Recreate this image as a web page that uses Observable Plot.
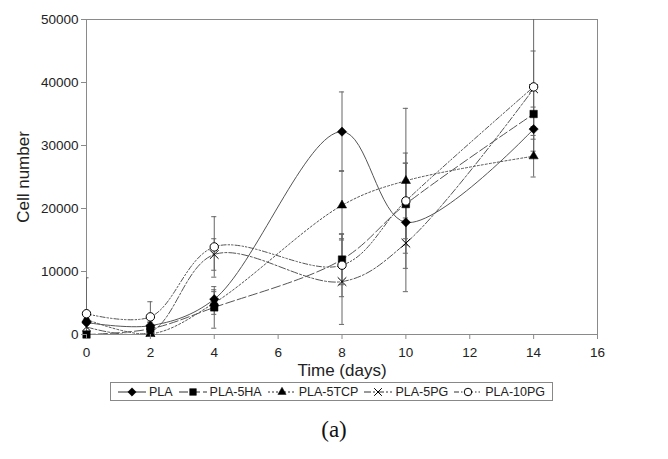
<!DOCTYPE html>
<html>
<head>
<meta charset="utf-8">
<script src="https://cdn.jsdelivr.net/npm/d3@7"></script>
<script src="https://cdn.jsdelivr.net/npm/@observablehq/plot@0.6"></script>
<style>
  body { margin: 0; background: #fff; font-family: "Liberation Sans", Arial, sans-serif; }
  #wrap { position: relative; width: 668px; height: 459px; }
  #chart { position: absolute; left: 0; top: 0; }
  #legend { position: absolute; left: 110px; top: 382px; width: 441px; height: 17px; border: 1px solid #888; background: #fff;
            display: flex; align-items: center; justify-content: center; gap: 6px; font-size: 12.5px; color: #222; }
  #legend .it { display: flex; align-items: center; gap: 3px; }
  #cap { position: absolute; left: 0; width: 668px; top: 417px; text-align: center;
         font-family: "Liberation Serif", "Times New Roman", serif; font-size: 23px; color: #111; }
</style>
</head>
<body>
<div id="wrap">
  <div id="chart"></div>
  <div id="legend"></div>
  <div id="cap">(a)</div>
</div>
<script>
const days = [0, 2, 4, 8, 10, 14];
const seriesNames = ["PLA", "PLA-5HA", "PLA-5TCP", "PLA-5PG", "PLA-10PG"];
const pla     = [1900, 1400, 5600, 32200, 17800, 32600];
const pla5ha  = [0, 900, 4300, 11900, 20700, 35000];
const pla5tcp = [2400, 100, 5000, 20500, 24400, 28300];
const pla5pg  = [1200, 400, 12700, 8400, 14500, 39000];
const pla10pg = [3300, 2800, 13900, 11000, 21200, 39300];
const errPla     = [900, 600, 1500, 6300, 11000, 3500];
const err5ha     = [500, 600, 3300, 4000, 6500, 4000];
const err5tcp    = [900, 300, 1800, 5500, 11500, 3300];
const err5pg     = [700, 1500, 2500, 6800, 4000, 6000];
const err10pg    = [5700, 2400, 4800, 5000, 6000, 11000];
const yTicks = [0, 10000, 20000, 30000, 40000, 50000];
const xTicks = [0, 2, 4, 6, 8, 10, 12, 14, 16];

const values = [pla, pla5ha, pla5tcp, pla5pg, pla10pg];
const errs = [errPla, err5ha, err5tcp, err5pg, err10pg];
const styles = {
  "PLA":      {dash: null,              symbol: "diamond2",  fill: "#000", r: 4.2},
  "PLA-5HA":  {dash: "9,3",             symbol: "square",    fill: "#000", r: 4.2},
  "PLA-5TCP": {dash: "2,2",             symbol: "triangle2", fill: "#000", r: 4.4},
  "PLA-5PG":  {dash: "7,2,2,2",         symbol: "times",     fill: "none", r: 4},
  "PLA-10PG": {dash: "5,2,1.5,2,1.5,2", symbol: "circle",    fill: "#fff", r: 4.2}
};

const data = [];
seriesNames.forEach((s, i) => days.forEach((d, j) => data.push({series: s, day: d, value: values[i][j], err: errs[i][j]})));

const lineColor = "#555";
const marks = [];
marks.push(Plot.frame({stroke: "#8a8a8a"}));
marks.push(Plot.ruleX(data, {x: "day", y1: d => d.value - d.err, y2: d => d.value + d.err, stroke: "#666", strokeWidth: 1, clip: true}));
marks.push(Plot.ruleY(data, {y: d => d.value + d.err, x1: d => d.day - 0.08, x2: d => d.day + 0.08, stroke: "#666", clip: true}));
marks.push(Plot.ruleY(data, {y: d => d.value - d.err, x1: d => d.day - 0.08, x2: d => d.day + 0.08, stroke: "#666", clip: true}));
for (const s of seriesNames) {
  const st = styles[s];
  const sub = data.filter(d => d.series === s);
  marks.push(Plot.line(sub, {x: "day", y: "value", curve: "catmull-rom", stroke: lineColor, strokeWidth: 1, strokeDasharray: st.dash, clip: true}));
}
for (const s of seriesNames) {
  const st = styles[s];
  const sub = data.filter(d => d.series === s);
  marks.push(Plot.dot(sub, {x: "day", y: "value", symbol: () => st.symbol, r: st.r,
    fill: st.symbol === "times" ? null : st.fill,
    stroke: "#000", strokeWidth: st.symbol === "times" || st.symbol === "circle" ? 1 : 0.5}));
}
marks.push(Plot.axisX({ticks: xTicks, tickSize: 5, tickPadding: 8, tickFormat: d => d, label: "Time (days)", labelAnchor: "center", labelArrow: "none", labelOffset: 41, fontSize: 13.5, stroke: "#8a8a8a"}));
marks.push(Plot.axisY({ticks: yTicks, tickSize: 5, tickPadding: 3, tickFormat: d3.format("d"), label: "Cell number", labelAnchor: "center", labelArrow: "none", labelOffset: 70, fontSize: 13.5, stroke: "#8a8a8a"}));

const chart = Plot.plot({
  width: 668, height: 382,
  marginLeft: 86, marginRight: 71, marginTop: 19, marginBottom: 48,
  x: {domain: [0, 16]},
  y: {domain: [0, 50000]},
  style: {fontFamily: "Liberation Sans, Arial, sans-serif", color: "#222", fontSize: "13.5px"},
  marks
});
chart.querySelectorAll("g[aria-label='x-axis label'] text, g[aria-label='y-axis label'] text").forEach(t => t.style.fontSize = "17px");
document.getElementById("chart").appendChild(chart);

// legend
const leg = document.getElementById("legend");
const ns = "http://www.w3.org/2000/svg";
const symMap = {diamond2: d3.symbolDiamond2, square: d3.symbolSquare, triangle2: d3.symbolTriangle2, times: d3.symbolTimes, circle: d3.symbolCircle};
for (const s of seriesNames) {
  const st = styles[s];
  const it = document.createElement("div");
  it.className = "it";
  const sv = document.createElementNS(ns, "svg");
  sv.setAttribute("width", 28); sv.setAttribute("height", 12);
  const ln = document.createElementNS(ns, "line");
  ln.setAttribute("x1", 0); ln.setAttribute("x2", 28); ln.setAttribute("y1", 6); ln.setAttribute("y2", 6);
  ln.setAttribute("stroke", "#333"); if (st.dash) ln.setAttribute("stroke-dasharray", st.dash);
  sv.appendChild(ln);
  const p = document.createElementNS(ns, "path");
  p.setAttribute("d", d3.symbol(symMap[st.symbol], Math.PI * st.r * st.r * 0.8)());
  p.setAttribute("transform", "translate(14,6)");
  p.setAttribute("fill", st.symbol === "times" ? "none" : st.fill);
  p.setAttribute("stroke", "#000");
  p.setAttribute("stroke-width", st.symbol === "times" || st.symbol === "circle" ? 1 : 0.5);
  sv.appendChild(p);
  it.appendChild(sv);
  const tx = document.createElement("span"); tx.textContent = s;
  it.appendChild(tx);
  leg.appendChild(it);
}
</script>
</body>
</html>
